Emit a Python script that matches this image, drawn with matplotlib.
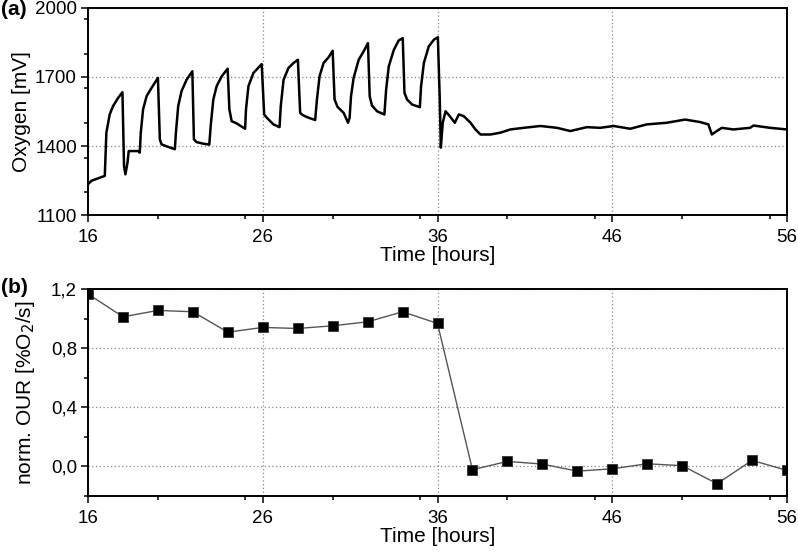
import matplotlib

matplotlib.use("Agg")
import matplotlib.pyplot as plt  # noqa: E402
from matplotlib.ticker import FuncFormatter, MultipleLocator  # noqa: E402

plt.rcParams["font.family"] = ["Liberation Sans", "DejaVu Sans"]

# (a) oxygen trace, vertices
oxy_time = [
    16.0, 16.2, 16.96, 17.05, 17.24, 17.43, 17.72, 17.97,
    18.06, 18.14, 18.26, 18.33, 18.87, 18.96,
    19.02, 19.15, 19.35, 19.63, 20.0,
    20.11, 20.21, 20.59, 20.97,
    21.03, 21.16, 21.35, 21.64, 21.97,
    22.06, 22.21, 22.6, 22.94,
    23.02, 23.17, 23.36, 23.65, 23.99,
    24.09, 24.22, 24.51, 24.99,
    25.04, 25.18, 25.46, 25.94,
    26.08, 26.23, 26.61, 26.96,
    27.03, 27.19, 27.47, 27.76, 28.01,
    28.14, 28.29, 28.62, 29.0,
    29.1, 29.25, 29.48, 29.77, 30.0,
    30.11, 30.28, 30.63, 30.88, 30.97,
    31.05, 31.2, 31.49, 31.77, 32.02,
    32.12, 32.25, 32.54, 32.96,
    33.06, 33.21, 33.5, 33.78, 34.01,
    34.11, 34.26, 34.55, 34.99,
    35.06, 35.22, 35.5, 35.79, 36.02,
    36.13, 36.19, 36.3, 36.46, 36.7, 36.99, 37.22, 37.5, 37.89,
    38.17, 38.46, 39.03, 39.6, 40.17, 40.93, 41.89, 42.84, 43.6,
    44.55, 45.31, 46.08, 47.03, 47.98, 49.12, 50.17, 51.03, 51.5,
    51.7, 51.98, 52.27, 52.93, 53.89, 54.08, 55.03, 56.0,
]
oxy_mv = [
    1234, 1249, 1270, 1458, 1537, 1573, 1609, 1634,
    1313, 1277, 1328, 1378, 1378, 1371,
    1458, 1559, 1616, 1652, 1696,
    1429, 1407, 1396, 1386,
    1458, 1573, 1638, 1688, 1725,
    1429, 1417, 1410, 1406,
    1487, 1602, 1660, 1703, 1736,
    1559, 1508, 1498, 1475,
    1559, 1660, 1717, 1756,
    1537, 1523, 1494, 1482,
    1573, 1688, 1739, 1761, 1775,
    1544, 1534, 1523, 1513,
    1602, 1703, 1761, 1786, 1814,
    1602, 1570, 1544, 1501, 1523,
    1616, 1696, 1775, 1811, 1847,
    1616, 1576, 1551, 1537,
    1645, 1746, 1818, 1859, 1869,
    1631, 1602, 1580, 1569,
    1660, 1761, 1833, 1862, 1873,
    1602, 1393, 1501, 1551, 1530, 1501, 1537, 1530, 1501,
    1472, 1450, 1450, 1458, 1472, 1479, 1487, 1479, 1465,
    1482, 1479, 1487, 1475, 1494, 1501, 1515, 1504, 1494,
    1450, 1465, 1479, 1472, 1479, 1489, 1479, 1472,
]

# (b) normalised OUR, one point every two hours
our_time = [16, 18, 20, 22, 24, 26, 28, 30, 32, 34, 36,
            38, 40, 42, 44, 46, 48, 50, 52, 54, 56]
our_val = [1.166, 1.012, 1.055, 1.046, 0.908, 0.94, 0.933, 0.951, 0.978, 1.046, 0.967,
           -0.022, 0.034, 0.016, -0.032, -0.016, 0.018, 0.005, -0.117, 0.041, -0.027]

x_ticks = [16, 26, 36, 46, 56]

fig = plt.figure(figsize=(7.98, 5.55), dpi=100)
ax1 = fig.add_axes([0.1103, 0.6126, 0.8759, 0.373])
ax2 = fig.add_axes([0.1103, 0.1063, 0.8759, 0.373])


def style(ax):
    ax.set_xlim(16, 56)
    ax.set_xticks(x_ticks)
    ax.xaxis.set_minor_locator(MultipleLocator(5))
    for sp in ax.spines.values():
        sp.set_linewidth(1.4)
        sp.set_zorder(5)
    ax.tick_params(which="major", direction="out", length=5, width=1.1, labelsize=13.5, pad=3)
    ax.tick_params(axis="x", which="major", pad=5)
    ax.tick_params(which="minor", direction="out", length=3, width=1.1)
    ax.grid(True, which="major", linestyle=(0, (1, 2)), color="#888888", linewidth=0.9)
    ax.set_xlabel("Time [hours]", fontsize=15, labelpad=0)


ax1.plot(oxy_time, oxy_mv, color="black", linewidth=1.8)
style(ax1)
ax1.set_ylim(1100, 2000)
ax1.set_yticks([1100, 1400, 1700, 2000])
ax1.yaxis.set_minor_locator(MultipleLocator(150))
ax1.set_ylabel("Oxygen [mV]", fontsize=15, labelpad=3)

ax2.plot(our_time, our_val, color="#555555", linewidth=1.0, marker="s",
         markersize=7.5, markerfacecolor="black", markeredgecolor="#333333",
         markeredgewidth=0.6)
style(ax2)
ax2.set_ylim(-0.2, 1.2)
ax2.set_yticks([0.0, 0.4, 0.8, 1.2])
ax2.yaxis.set_minor_locator(MultipleLocator(0.2))
ax2.yaxis.set_major_formatter(FuncFormatter(lambda v, _: f"{v:.1f}".replace(".", ",")))
ax2.set_ylabel("norm. OUR [%O$_2$/s]", fontsize=15, labelpad=10)

fig.text(0.001, 0.983, "(a)", fontsize=15, fontweight="bold", ha="left", va="center")
fig.text(0.001, 0.482, "(b)", fontsize=15, fontweight="bold", ha="left", va="center")

fig.savefig("out.png", dpi=100)
plt.close(fig)
